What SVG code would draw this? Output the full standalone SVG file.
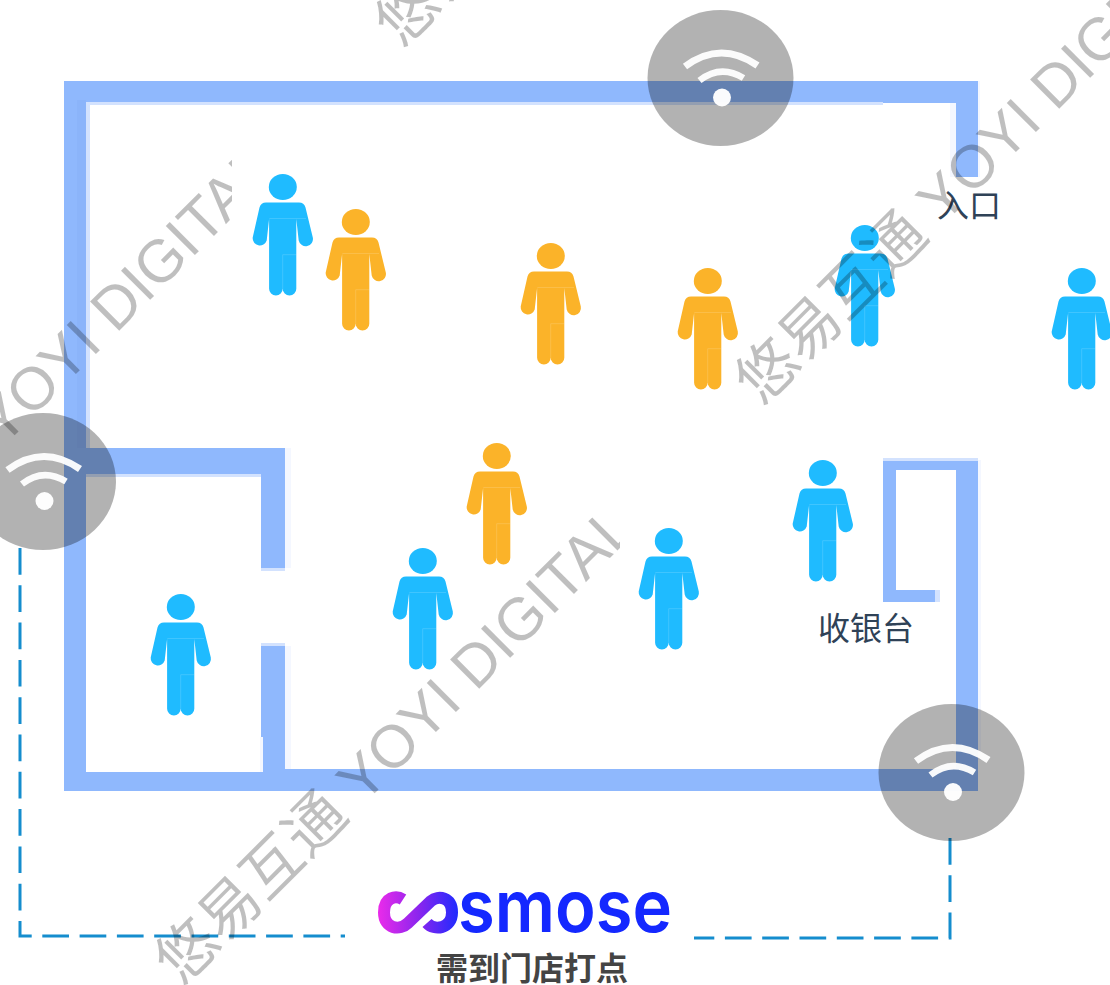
<svg xmlns="http://www.w3.org/2000/svg" width="1110" height="985" viewBox="0 0 1110 985">
<style>
.wall{fill:#8fb8fd}
.band{fill:#7fa8f5;fill-opacity:.25}
.fringe{fill:#d3e2fe}
.faint{fill:#f4f7ff}
.blue{fill:#1fbbff}
.orange{fill:#fbb329}
.seam{fill:none;stroke:#fff;stroke-opacity:.15;stroke-width:1}
.disc{fill:#000;fill-opacity:.3}
.arc{fill:none;stroke:#fff;stroke-opacity:.95;stroke-linecap:butt}
.link{fill:none;stroke:#158dce;stroke-width:3;stroke-dasharray:26.700 10.600}
.label{font-family:"Noto Sans CJK SC","Liberation Sans",sans-serif;font-size:32px;fill:#2f4257}
.caption{font-family:"Noto Sans CJK SC","Liberation Sans",sans-serif;font-size:32px;font-weight:700;fill:#444}
.mark{font-family:"Liberation Sans","Noto Sans CJK SC",sans-serif;font-size:60px;fill:#000;fill-opacity:.25}
</style>
<defs>
<linearGradient id="logoGrad" gradientUnits="userSpaceOnUse" x1="378" y1="912" x2="460" y2="912">
<stop offset="0" stop-color="#ea2bea"/><stop offset=".5" stop-color="#8a25ee"/><stop offset="1" stop-color="#1a2bff"/>
</linearGradient>
<symbol id="person" overflow="visible" viewBox="-32 -16 64 128" width="64" height="128" x="-32" y="-16">
<ellipse cx="-0.200" cy="0" rx="14" ry="13"/>
<path d="M-17 15.500H16Q21 15.500 22.500 20.500L29.800 50.500A7.200 7.200 0 0 1 15.700 53.500L13.300 32V101.800A6.800 6.800 0 0 1-0.300 101.800A6.800 6.800 0 0 1-13.900 101.800V32L-16.300 53.500A7.200 7.200 0 0 1-30.300 50.500L-23.500 20.500Q-22 15.500-17 15.500Z"/>
<path class="seam" d="M-13.700 31.500H23M-0.300 67.700H13.300M-0.300 67.700V103"/>
</symbol>
<symbol id="wifi" overflow="visible" viewBox="-73 -68 146 136" width="146" height="136" x="-73" y="-68">
<path class="arc" stroke-width="7" d="M-35.500-11.500Q0-38 37-12.500"/>
<path class="arc" stroke-width="6.500" d="M-21 2.500Q0-14 23 0"/>
<circle cx="1.500" cy="19.500" r="9" fill="#fff" fill-opacity=".97"/>
</symbol>
<clipPath id="clipCentre"><rect x="0" y="400" width="620" height="585"/></clipPath>
<clipPath id="clipLeft"><rect x="0" y="100" width="232" height="400"/></clipPath>
</defs>

<g id="walls">
<rect class="fringe" x="86" y="102" width="4" height="346"/>
<rect class="fringe" x="86" y="102" width="797" height="3"/>
<rect class="faint" x="978" y="81" width="2" height="96"/>
<rect class="faint" x="950" y="103" width="6" height="74"/>
<rect class="wall" x="64" y="81" width="914" height="21"/>
<rect class="wall" x="883" y="81" width="95" height="22"/>
<rect class="wall" x="956" y="81" width="22" height="96"/>
<rect class="wall" x="64" y="81" width="22" height="710"/>
<rect class="band" x="77" y="100" width="9" height="348"/>
<rect class="fringe" x="86" y="474" width="175" height="3"/>
<rect class="wall" x="64" y="448" width="221" height="26"/>
<rect class="wall" x="261" y="448" width="24" height="122"/>
<rect class="fringe" x="261" y="568" width="24" height="3"/>
<rect class="faint" x="285" y="448" width="6" height="120"/>
<rect class="faint" x="285" y="646" width="6" height="123"/>
<rect class="fringe" x="261" y="643" width="24" height="3"/>
<rect class="wall" x="261" y="646" width="24" height="91"/>
<rect class="faint" x="260" y="737" width="3" height="35"/>
<rect class="wall" x="263" y="737" width="22" height="54"/>
<rect class="wall" x="64" y="772" width="221" height="19"/>
<rect class="wall" x="285" y="769" width="693" height="22"/>
<rect class="wall" x="956" y="460" width="22" height="331"/>
<rect class="faint" x="978" y="460" width="3" height="300"/>
<rect class="fringe" x="883" y="458" width="95" height="3"/>
<rect class="wall" x="883" y="461" width="95" height="9"/>
<rect class="wall" x="883" y="461" width="13" height="141"/>
<rect class="wall" x="883" y="590" width="52" height="12"/>
<rect class="fringe" x="935" y="590" width="5" height="12"/>
</g>

<g id="person-1"><use href="#person" class="blue" x="283" y="187"/></g>
<g id="person-2"><use href="#person" class="orange" x="356" y="222"/></g>
<g id="person-3"><use href="#person" class="orange" x="551" y="256"/></g>
<g id="person-4"><use href="#person" class="orange" x="708" y="281"/></g>
<g id="person-5"><use href="#person" class="blue" x="865" y="238"/></g>
<g id="person-6"><use href="#person" class="blue" x="1082" y="281"/></g>
<g id="person-7"><use href="#person" class="orange" x="497" y="456"/></g>
<g id="person-8"><use href="#person" class="blue" x="823" y="473"/></g>
<g id="person-9"><use href="#person" class="blue" x="669" y="541"/></g>
<g id="person-10"><use href="#person" class="blue" x="423" y="561"/></g>
<g id="person-11"><use href="#person" class="blue" x="181" y="607"/></g>

<g id="label-entrance"><text class="label" x="937" y="217">入口</text></g>
<g id="label-cashier"><text class="label" x="818" y="640">收银台</text></g>

<g id="connectors">
<path class="link" d="M20 548V936H345"/>
<path class="link" d="M950 838V938H694"/>
</g>

<g id="wifi-top"><ellipse class="disc" cx="720.500" cy="78" rx="73" ry="68"/><use href="#wifi" x="720.500" y="78"/></g>
<g id="wifi-left"><ellipse class="disc" cx="43" cy="481.500" rx="73" ry="68.500"/><use href="#wifi" x="43" y="481.500"/></g>
<g id="wifi-right"><ellipse class="disc" cx="951.500" cy="772.500" rx="73" ry="68.500"/><use href="#wifi" x="951.500" y="772.500"/></g>

<g id="logo">
<path fill="none" stroke="url(#logoGrad)" stroke-width="12" d="M403 899.500C396 895 384 897 384 912.500C384 929 400 931 408 923L431 901C438 895 452 897 452 912.500C452 929 434 931 427 923"/>
<text x="458" y="932" font-family="Inter,'Noto Sans',sans-serif" font-size="72" font-weight="600" fill="#1428ff" textLength="214" lengthAdjust="spacingAndGlyphs">smose</text>
</g>
<g id="caption"><text class="caption" x="436" y="980">需到门店打点</text></g>

<g id="watermarks">
<g clip-path="url(#clipCentre)"><text class="mark" transform="translate(181 987) rotate(-45)">悠易互通 YOYI DIGITAL</text></g>
<text class="mark" transform="translate(761 407) rotate(-45)">悠易互通 YOYI DIGITAL</text>
<g clip-path="url(#clipLeft)"><text class="mark" transform="translate(-179 629) rotate(-45)">悠易互通 YOYI DIGITAL</text></g>
<text class="mark" transform="translate(401 49) rotate(-45)">悠易互通 YOYI DIGITAL</text>
</g>
</svg>
